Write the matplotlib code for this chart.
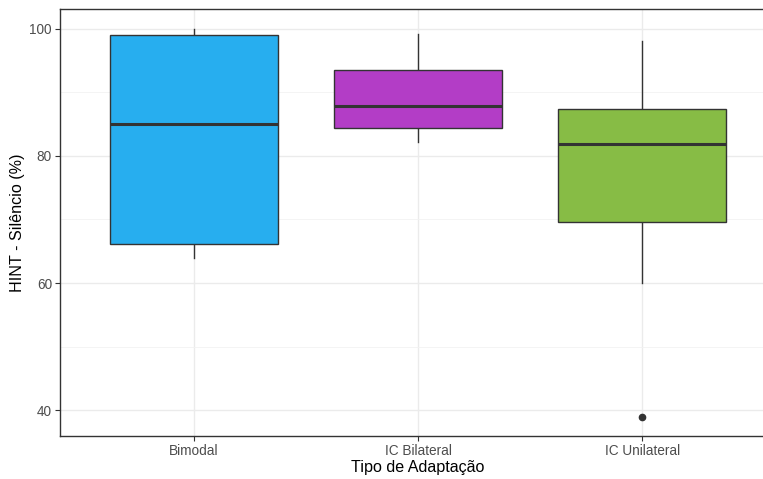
import numpy as np
import matplotlib.pyplot as plt
from matplotlib.ticker import MultipleLocator

plt.rcParams['font.family'] = ['Liberation Sans', 'DejaVu Sans']

# Summary statistics for HINT in silence, per adaptation type
categories = ['Bimodal', 'IC Bilateral', 'IC Unilateral']
whislo = [64.0, 82.2, 60.0]
q1 = [66.2, 84.4, 69.6]
med = [85.0, 87.9, 81.8]
q3 = [99.0, 93.5, 87.3]
whishi = [100.0, 99.1, 98.1]
fliers = [[], [], [39.0]]
colors = ['#27aeef', '#b33dc6', '#87bc45']

stats = []
for i, name in enumerate(categories):
    stats.append({'label': name, 'whislo': whislo[i], 'q1': q1[i], 'med': med[i],
                  'q3': q3[i], 'whishi': whishi[i], 'fliers': fliers[i]})

fig = plt.figure(figsize=(7.63, 4.79), dpi=100)
ax = fig.add_axes([59.6 / 763, 43 / 479, (776.7 - 59.6) / 763, (469.7 - 43) / 479])

pos = np.arange(1, len(categories) + 1)
bp = ax.bxp(stats, positions=pos, widths=0.75, patch_artist=True, showcaps=False,
            boxprops=dict(edgecolor='#333333', linewidth=1.0),
            whiskerprops=dict(color='#333333', linewidth=1.0),
            medianprops=dict(color='#333333', linewidth=2.2),
            flierprops=dict(marker='o', markerfacecolor='#333333', markeredgecolor='#333333',
                            markersize=4.5))
for patch, c in zip(bp['boxes'], colors):
    patch.set_facecolor(c)
    patch.set_zorder(3)
for k in ['whiskers', 'medians', 'fliers']:
    for a in bp[k]:
        a.set_zorder(4 if k != 'whiskers' else 2)

# ggplot-style limits with 5% padding
lo, hi = 39.0, 100.0
pad = (hi - lo) * 0.05
ax.set_ylim(lo - pad, hi + pad)
ax.set_xlim(0.4, 3.6)

ax.yaxis.set_major_locator(MultipleLocator(20))
ax.yaxis.set_minor_locator(MultipleLocator(10))
ax.set_xticks(pos)
ax.set_xticklabels(categories)

ax.grid(which='major', color='#ebebeb', linewidth=1.0, zorder=0)
ax.grid(which='minor', axis='y', color='#f2f2f2', linewidth=0.6, zorder=0)
ax.set_axisbelow(True)

ax.tick_params(which='major', length=3.5, width=0.8, color='#333333',
               labelcolor='#4d4d4d', labelsize=9.8, pad=2)
ax.tick_params(which='minor', length=0)
for s in ax.spines.values():
    s.set_color('#333333')
    s.set_linewidth(1.0)

ax.set_xlabel('Tipo de Adaptação', fontsize=11.6, color='black', labelpad=2)
ax.set_ylabel('HINT - Silêncio (%)', fontsize=11.6, color='black', labelpad=3)

fig.savefig('out.png', dpi=100)
